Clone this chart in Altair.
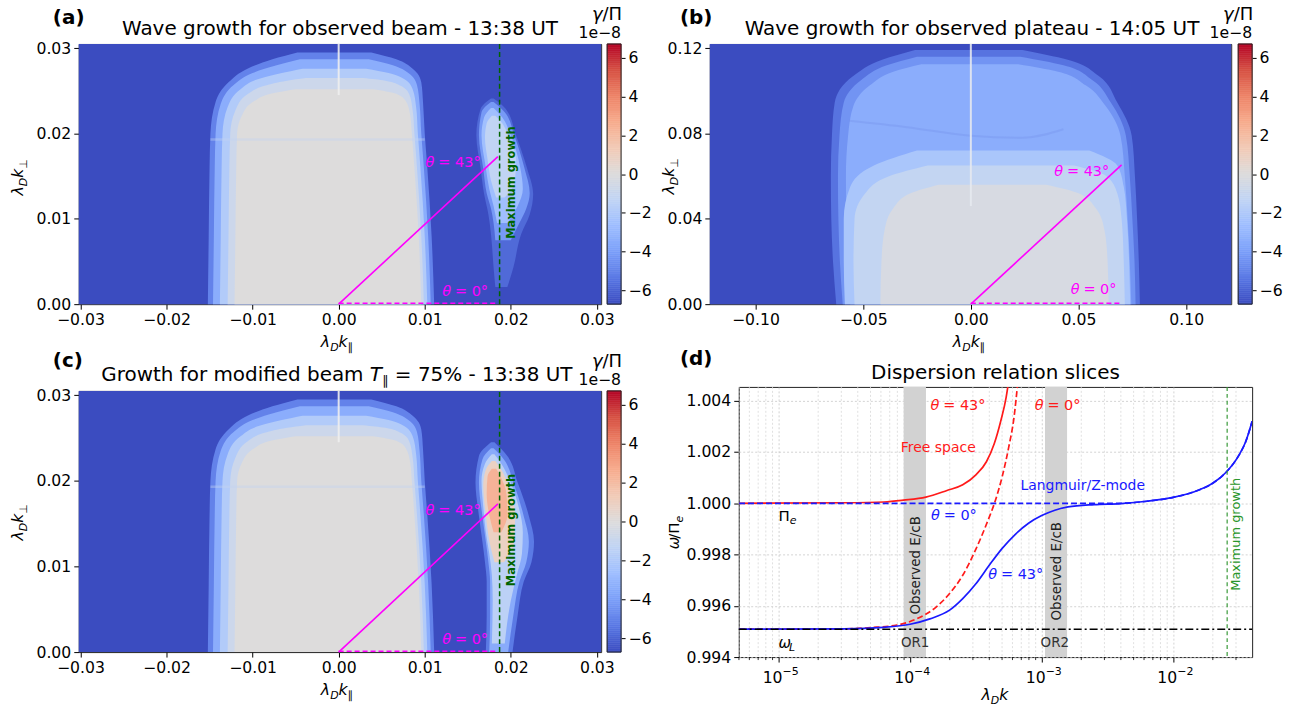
import altair as alt
import numpy as np
import pandas as pd

FONT = "DejaVu Sans"
TICKFS = 15.7
TITLEFS = 20

# ------------------------------------------------------------------ colour map (matplotlib "coolwarm")
VMAX = 6.7
COOLWARM = ["#3b4cc0", "#5a78e4", "#7b9ff9", "#9ebeff", "#c0d4f5", "#dddcdc",
            "#f2cbb7", "#f7ac8e", "#ee8468", "#d65244", "#b40426"]
CB_TICKS = [-6, -4, -2, 0, 2, 4, 6]
CDOM = [round(-VMAX + i * 2 * VMAX / 10, 4) for i in range(11)]
CSCALE = alt.Scale(domain=CDOM, range=COOLWARM, interpolate="rgb")

# ------------------------------------------------------------------ panels (a) and (c): axes
AC_XDOM = [-0.0302, 0.0305]
AC_YDOM = [0.0, 0.0305]
AC_XTICKS = [-0.03, -0.02, -0.01, 0.0, 0.01, 0.02, 0.03]
AC_YTICKS = [0.0, 0.01, 0.02, 0.03]
AC_MAXGROWTH = 0.0187
AC_THETA43_END = [0.0185, 0.0173]

# main plateau (same in a and c): contour levels
MAIN1_V = -5.0
MAIN1_KPERP = [0.0, 0.008, 0.016, 0.020, 0.0237, 0.0260, 0.0276, 0.0287, 0.0295]
MAIN1_LEFT = [-0.0152, -0.0151, -0.0150, -0.0149, -0.0143, -0.0128, -0.0106, -0.0077, -0.0048]
MAIN1_RIGHT = [0.0111, 0.0108, 0.0103, 0.0100, 0.0098, 0.0096, 0.0086, 0.0067, 0.0038]
MAIN2_V = -3.4
MAIN2_KPERP = [0.0, 0.008, 0.016, 0.020, 0.0235, 0.0257, 0.0271, 0.0280, 0.0287]
MAIN2_LEFT = [-0.0146, -0.0145, -0.0144, -0.0143, -0.0137, -0.0122, -0.0100, -0.0072, -0.0045]
MAIN2_RIGHT = [0.0107, 0.0104, 0.0099, 0.0096, 0.0094, 0.0091, 0.0081, 0.0063, 0.0035]
MAIN3_V = -1.9
MAIN3_KPERP = [0.0, 0.008, 0.016, 0.020, 0.0231, 0.0252, 0.0264, 0.0271, 0.0276]
MAIN3_LEFT = [-0.0138, -0.0137, -0.0136, -0.0135, -0.0129, -0.0114, -0.0093, -0.0066, -0.0042]
MAIN3_RIGHT = [0.0103, 0.0100, 0.0095, 0.0092, 0.0090, 0.0086, 0.0076, 0.0058, 0.0032]
MAIN4_V = -0.8
MAIN4_KPERP = [0.0, 0.008, 0.016, 0.020, 0.0227, 0.0246, 0.0256, 0.0262, 0.0265]
MAIN4_LEFT = [-0.0129, -0.0128, -0.0127, -0.0126, -0.0120, -0.0106, -0.0086, -0.0060, -0.0038]
MAIN4_RIGHT = [0.0099, 0.0096, 0.0091, 0.0088, 0.0086, 0.0082, 0.0072, 0.0054, 0.0028]
MAIN5_V = 0.0
MAIN5_KPERP = [0.0, 0.008, 0.016, 0.020, 0.0222, 0.0238, 0.0247, 0.0252]
MAIN5_LEFT = [-0.0121, -0.0120, -0.0119, -0.0118, -0.0112, -0.0098, -0.0078, -0.0050]
MAIN5_RIGHT = [0.0096, 0.0093, 0.0088, 0.0085, 0.0083, 0.0078, 0.0066, 0.0040]
MAIN_STRIPE_KPERP = 0.0193
MAIN_STRIPE_X = [-0.0149, 0.0100]
AC_WHITE_LINE_Y = [0.0245, 0.0305]

# growth blob, panel (a)
BA1_V = -5.8
BA1_KPERP = [0.002, 0.0043, 0.0082, 0.0105, 0.0129, 0.0159, 0.0198, 0.0229, 0.0241]
BA1_LEFT = [0.0182, 0.0180, 0.0177, 0.0174, 0.0169, 0.0165, 0.0160, 0.0165, 0.0177]
BA1_RIGHT = [0.0196, 0.0203, 0.0212, 0.0222, 0.0226, 0.0219, 0.0206, 0.0194, 0.0180]
BA2_V = -4.2
BA2_KPERP = [0.0075, 0.0095, 0.0112, 0.0130, 0.0159, 0.0198, 0.0225, 0.0237]
BA2_LEFT = [0.0182, 0.0180, 0.0177, 0.0172, 0.0168, 0.0163, 0.0166, 0.0177]
BA2_RIGHT = [0.0200, 0.0210, 0.0218, 0.0222, 0.0216, 0.0204, 0.0193, 0.0180]
BA3_V = -2.6
BA3_KPERP = [0.0095, 0.0115, 0.0135, 0.0160, 0.0198, 0.0219, 0.0230]
BA3_LEFT = [0.0184, 0.0180, 0.0175, 0.0171, 0.0166, 0.0169, 0.0177]
BA3_RIGHT = [0.0196, 0.0208, 0.0214, 0.0211, 0.0200, 0.0190, 0.0180]
BA4_V = -1.3
BA4_KPERP = [0.0125, 0.0145, 0.0170, 0.0195, 0.0212, 0.0221]
BA4_LEFT = [0.0183, 0.0177, 0.0173, 0.0170, 0.0172, 0.0178]
BA4_RIGHT = [0.0193, 0.0205, 0.0206, 0.0198, 0.0190, 0.0182]

# growth blob, panel (c)
BC1_V = -5.3
BC1_KPERP = [0.0, 0.0043, 0.0082, 0.0105, 0.0129, 0.0159, 0.0198, 0.0229, 0.0245]
BC1_LEFT = [0.0171, 0.0172, 0.0172, 0.0170, 0.0167, 0.0163, 0.0159, 0.0163, 0.0177]
BC1_RIGHT = [0.0202, 0.0208, 0.0215, 0.0224, 0.0227, 0.0221, 0.0208, 0.0196, 0.0181]
BC2_V = -3.5
BC2_KPERP = [0.0, 0.0043, 0.0082, 0.0105, 0.0129, 0.0159, 0.0198, 0.0225, 0.0238]
BC2_LEFT = [0.0175, 0.0176, 0.0176, 0.0174, 0.0171, 0.0167, 0.0163, 0.0167, 0.0177]
BC2_RIGHT = [0.0197, 0.0203, 0.0210, 0.0218, 0.0221, 0.0215, 0.0203, 0.0192, 0.0180]
BC3_V = -1.5
BC3_KPERP = [0.001, 0.0060, 0.0090, 0.0115, 0.0140, 0.0170, 0.0200, 0.0220, 0.0231]
BC3_LEFT = [0.0178, 0.0179, 0.0178, 0.0175, 0.0171, 0.0168, 0.0166, 0.0170, 0.0178]
BC3_RIGHT = [0.0193, 0.0200, 0.0207, 0.0213, 0.0214, 0.0209, 0.0199, 0.0189, 0.0181]
BC4_V = 0.9
BC4_KPERP = [0.0105, 0.0130, 0.0160, 0.0195, 0.0213, 0.0223]
BC4_LEFT = [0.0181, 0.0175, 0.0171, 0.0168, 0.0171, 0.0178]
BC4_RIGHT = [0.0192, 0.0204, 0.0205, 0.0197, 0.0189, 0.0182]
BC5_V = 2.4
BC5_KPERP = [0.0140, 0.0160, 0.0185, 0.0205, 0.0214]
BC5_LEFT = [0.0180, 0.0175, 0.0172, 0.0173, 0.0178]
BC5_RIGHT = [0.0189, 0.0196, 0.0195, 0.0188, 0.0183]

# ------------------------------------------------------------------ panel (b)
B_XDOM = [-0.1212, 0.1209]
B_YDOM = [0.0, 0.122]
B_XTICKS = [-0.10, -0.05, 0.0, 0.05, 0.10]
B_YTICKS = [0.0, 0.04, 0.08, 0.12]
B_THETA43_END = [0.070, 0.0653]
P1_V = -5.5
P1_KPERP = [0.0, 0.02, 0.04, 0.06, 0.079, 0.0945, 0.107, 0.1146, 0.1192]
P1_LEFT = [-0.0625, -0.0640, -0.0648, -0.0650, -0.0645, -0.0632, -0.0546, -0.0412, -0.0259]
P1_RIGHT = [0.0785, 0.0780, 0.0772, 0.0762, 0.0747, 0.0680, 0.0594, 0.0450, 0.0240]
P2_V = -4.4
P2_KPERP = [0.0, 0.02, 0.04, 0.06, 0.079, 0.0945, 0.105, 0.1120, 0.1160]
P2_LEFT = [-0.0595, -0.0608, -0.0615, -0.0617, -0.0610, -0.0590, -0.0510, -0.0390, -0.0250]
P2_RIGHT = [0.0765, 0.0760, 0.0750, 0.0738, 0.0720, 0.0650, 0.0565, 0.0430, 0.0230]
P3_V = -3.4
P3_KPERP = [0.0, 0.02, 0.04, 0.06, 0.079, 0.0930, 0.1025, 0.1090, 0.1125]
P3_LEFT = [-0.0560, -0.0572, -0.0578, -0.0580, -0.0570, -0.0545, -0.0470, -0.0360, -0.0230]
P3_RIGHT = [0.0745, 0.0738, 0.0728, 0.0715, 0.0695, 0.0625, 0.0535, 0.0405, 0.0220]
P4_V = -2.2
P4_KPERP = [0.0, 0.02, 0.04, 0.055, 0.065, 0.072]
P4_LEFT = [-0.0585, -0.0590, -0.0590, -0.0560, -0.0450, -0.0250]
P4_RIGHT = [0.0740, 0.0735, 0.0725, 0.0710, 0.0680, 0.0550]
P5_V = -1.2
P5_KPERP = [0.0, 0.02, 0.04, 0.052, 0.060, 0.065]
P5_LEFT = [-0.0540, -0.0545, -0.0540, -0.0490, -0.0380, -0.0200]
P5_RIGHT = [0.0715, 0.0710, 0.0700, 0.0680, 0.0630, 0.0480]
P6_V = -0.3
P6_KPERP = [0.0, 0.02, 0.035, 0.045, 0.052, 0.056]
P6_LEFT = [-0.0420, -0.0415, -0.0400, -0.0360, -0.0280, -0.0150]
P6_RIGHT = [0.0640, 0.0635, 0.0620, 0.0580, 0.0500, 0.0350]
B_ARC_KPAR = [-0.0565, -0.0297, 0.0, 0.024, 0.043]
B_ARC_KPERP = [0.086, 0.083, 0.079, 0.078, 0.082]
B_WHITE_LINE_Y = [0.046, 0.122]

# ------------------------------------------------------------------ panel (d): dispersion slices
D_XDOM = [4.98e-6, 0.0398]
D_YDOM = [0.994, 1.00454]
D_XTICKS = [1e-5, 1e-4, 1e-3, 1e-2]
D_XTICK_EXP = ["−5", "−4", "−3", "−2"]
D_YTICKS = [0.994, 0.996, 0.998, 1.000, 1.002, 1.004]
OMEGA_L = 0.99509
MAXGROWTH_K = 0.0257
OR1_BAND = [8.93e-5, 1.32e-4]
OR2_BAND = [1.06e-3, 1.56e-3]
RED43_LOGK = [-5.30, -4.50, -4.20, -4.05, -3.88, -3.72, -3.60, -3.50, -3.42, -3.36, -3.31, -3.27, -3.25]
RED43_W = [1.0, 1.00002, 1.00005, 1.00012, 1.00024, 1.0005, 1.00072, 1.00111, 1.00162, 1.00233,
           1.00323, 1.00413, 1.0048]
RED0_LOGK = [-5.30, -4.50, -4.30, -4.10, -3.95, -3.80, -3.70, -3.60, -3.50, -3.42, -3.35, -3.30,
             -3.25, -3.21, -3.18]
RED0_W = [0.99509, 0.99510, 0.99515, 0.99525, 0.99549, 0.99596, 0.99648, 0.99719, 0.99821, 0.99918,
          1.00014, 1.00104, 1.0022, 1.00336, 1.0048]
BLUE43_LOGK = [-5.30, -4.50, -4.20, -4.00, -3.85, -3.70, -3.60, -3.50, -3.40, -3.30, -3.20, -3.10,
               -3.00, -2.90, -2.80, -2.60, -2.40, -2.20, -2.00, -1.80, -1.70, -1.60, -1.50, -1.45, -1.40]
BLUE43_W = [0.99509, 0.99510, 0.99516, 0.99528, 0.99549, 0.99583, 0.99628, 0.99686, 0.99757, 0.99824,
            0.99879, 0.99922, 0.99952, 0.99973, 0.99986, 0.99995, 0.99999, 1.00008, 1.00023, 1.00053,
            1.00078, 1.0012, 1.00188, 1.00239, 1.0032]
BLUE0_LOGK = [-5.30, -3.00, -2.60, -2.40, -2.20, -2.00, -1.80, -1.70, -1.60, -1.50, -1.45, -1.40]
BLUE0_W = [1.0, 1.0, 1.0, 1.0, 1.00008, 1.00023, 1.00053, 1.00078, 1.0012, 1.00188, 1.00239, 1.0032]

# ------------------------------------------------------------------ layout (pixels)
W_AC, H_A, H_C = 524, 261, 262
W_B, H_B = 523, 261
W_D, H_D = 515, 271
CB_X, CB_W = 530, 14          # colour bar, relative to each heat-map panel
PLOT_POS = {"a": (78, 42), "b": (709, 42), "c": (78, 388), "d": (738, 384)}
GAP = -20                     # concat spacing; cells overlap by 20 px
CELL_COL = [(0, 670), (650, 1298)]
CELL_ROW = [(0, 362), (342, 710)]

# ------------------------------------------------------------------ helpers
CHARW = {"θ": 0.88, "=": 0.838, " ": 0.318, "°": 0.5, "λ": 0.60, "k": 0.58, "D": 0.77, "∥": 0.5,
         "⊥": 0.84, "ω": 0.70, "/": 0.337, "Π": 0.75, "e": 0.615, "L": 0.557, "γ": 0.59,
         "T": 0.611, "%": 0.95, "-": 0.361, ":": 0.337, "U": 0.732, "−": 0.838}
for _d in "0123456789":
    CHARW[_d] = 0.636


def tw(text, size):
    return sum(CHARW.get(ch, 0.6) for ch in text) * size


def txt(t, x, y, size, color="black", align="left", baseline="alphabetic", angle=0,
        italic=False, bold=False):
    return alt.Chart(pd.DataFrame({"t": [t]})).mark_text(
        align=align, baseline=baseline, font=FONT, fontSize=size, angle=angle, color=color,
        fontStyle="italic" if italic else "normal", fontWeight="bold" if bold else "normal"
    ).encode(text="t:N", x=alt.value(x), y=alt.value(y))


def ptext(pieces, x0, y0, angle=0, color="black"):
    out, pos = [], 0.0
    for t, size, ital, shift in pieces:
        if angle == 0:
            px, py = x0 + pos, y0 + shift
        else:
            px, py = x0 + shift, y0 - pos
        out.append(txt(t, px, py, size, color=color, angle=angle, italic=ital))
        pos += tw(t, size)
    return out


def kpieces(perp):
    return [("λ", 15.7, True, 0), ("D", 11, True, 4), ("k", 15.7, True, 0),
            ("⊥" if perp else "∥", 11, False, 4)]


def ctitle_x(pieces, cx, base):
    total = sum(tw(t, s) for t, s, _, _ in pieces)
    return ptext(pieces, cx - total / 2, base)


def ctitle_y(pieces, bx, cy):
    total = sum(tw(t, s) for t, s, _, _ in pieces)
    return ptext(pieces, bx, cy + total / 2, angle=270)


def axis(values, fmt=None, orient=None, **kw):
    d = dict(values=values, title=None, labelFont=FONT, labelFontSize=TICKFS, labelColor="black",
             tickColor="black", tickSize=5, tickWidth=1, domain=False, grid=False, labelPadding=3,
             labelFlush=False, labelOverlap=False)
    if fmt is not None:
        d["format"] = fmt
    if orient is not None:
        d["orient"] = orient
    d.update(kw)
    return alt.Axis(**d)


class Frame:
    """one panel's scales and axes; every layer uses the same axis definition"""

    def __init__(self, xs, ys, axx, axy):
        self.xs, self.ys, self.axx, self.axy = xs, ys, axx, axy

    def X(self, f):
        return alt.X(f, scale=self.xs, axis=self.axx)

    def Y(self, f):
        return alt.Y(f, scale=self.ys, axis=self.axy)


def dtext(x, y, pieces, fr, color, center=True):
    widths = [tw(t, s) for t, s, _, _ in pieces]
    pos = -sum(widths) / 2 if center else 0.0
    out = []
    for (t, s, it, dy), w in zip(pieces, widths):
        out.append(alt.Chart(pd.DataFrame({"x": [x], "y": [y], "t": [t]})).mark_text(
            align="left", baseline="middle", dx=pos, dy=dy, font=FONT, fontSize=s,
            fontStyle="italic" if it else "normal", color=color
        ).encode(x=fr.X("x:Q"), y=fr.Y("y:Q"), text="t:N"))
        pos += w
    return out


def cell(key):
    px, py = PLOT_POS[key]
    col = 0 if key in "ac" else 1
    row = 0 if key in "ab" else 1
    x0, x1 = CELL_COL[col]
    y0, y1 = CELL_ROW[row]
    return alt.Chart(pd.DataFrame({"a": [0]})).mark_rect(opacity=0).encode(
        x=alt.value(x0 - px), x2=alt.value(x1 - px), y=alt.value(y0 - py), y2=alt.value(y1 - py))


def level(kperp, left, right, v, fr):
    df = pd.DataFrame({"kp": kperp, "lf": left, "rt": right, "v": [v] * len(kperp)})
    return alt.Chart(df).mark_area(orient="horizontal", interpolate="monotone").encode(
        y=fr.Y("kp:Q"), x=fr.X("lf:Q"), x2=alt.X2("rt"),
        color=alt.Color("v:Q", scale=CSCALE, legend=None))


def seg(x0, y0, x1, y1, fr, color, width, dash=None, opacity=1.0):
    kw = dict(color=color, strokeWidth=width, opacity=opacity)
    if dash:
        kw["strokeDash"] = dash
    df = pd.DataFrame({"x0": [x0], "y0": [y0], "x1": [x1], "y1": [y1]})
    return alt.Chart(df).mark_rule(**kw).encode(
        x=fr.X("x0:Q"), y=fr.Y("y0:Q"), x2=alt.X2("x1"), y2=alt.Y2("y1"))


def background(xdom, ydom, fr):
    df = pd.DataFrame({"x0": [xdom[0]], "x1": [xdom[1]], "y0": [ydom[0]], "y1": [ydom[1]],
                       "v": [-VMAX]})
    return alt.Chart(df).mark_rect().encode(
        x=fr.X("x0:Q"), x2=alt.X2("x1"), y=fr.Y("y0:Q"), y2=alt.Y2("y1"),
        color=alt.Color("v:Q", scale=CSCALE, legend=None))


def colorbar_layers(W, H):
    """colour bar drawn inside the heat-map panel, with its own (independent) y scale"""
    vals = np.round(np.arange(-VMAX, VMAX - 1e-9, 0.1), 4)
    df = pd.DataFrame({"v0": vals, "v1": np.round(vals + 0.1, 4), "vm": np.round(vals + 0.05, 4)})
    ys = alt.Scale(domain=[-VMAX, VMAX], nice=False, zero=False)
    bar = alt.Chart(df).mark_rect(strokeWidth=0.6).encode(
        y=alt.Y("v0:Q", scale=ys, axis=axis(CB_TICKS, "d", orient="right", tickSize=4,
                                               labelPadding=3, offset=CB_X + CB_W - W)),
        y2=alt.Y2("v1"), x=alt.value(CB_X), x2=alt.value(CB_X + CB_W),
        color=alt.Color("vm:Q", scale=CSCALE, legend=None),
        stroke=alt.Stroke("vm:Q", scale=CSCALE, legend=None))
    frame = alt.Chart(pd.DataFrame({"a": [0]})).mark_rect(
        fillOpacity=0, stroke="#222222", strokeWidth=1).encode(
        x=alt.value(CB_X), x2=alt.value(CB_X + CB_W), y=alt.value(0), y2=alt.value(H))
    return alt.layer(bar, frame)


def cbar_titles():
    right = CB_X + CB_W
    gp = [("γ", 18, True, 0), ("/Π", 18, False, 0)]
    gw = sum(tw(t, s) for t, s, _, _ in gp)
    return ptext(gp, right - gw + 1, -24) + [txt("1e−8", right, -6, TICKFS, align="right")]


def theta_label(x, y, deg, fr, color):
    return dtext(x, y, [("θ", 14.5, True, 0), ("= " + deg + "°", 14.5, False, 0)], fr, color)


# ------------------------------------------------------------------ panels (a) & (c)
def beam_panel(key, H, blob_levels, label, title_layers, ylabel_cy, xlabel_base):
    fr = Frame(alt.Scale(domain=AC_XDOM, nice=False, zero=False),
               alt.Scale(domain=AC_YDOM, nice=False, zero=False),
               axis(AC_XTICKS, ".2f"), axis(AC_YTICKS, ".2f"))
    layers = [background(AC_XDOM, AC_YDOM, fr)]
    for kp, lf, rt, v in [(MAIN1_KPERP, MAIN1_LEFT, MAIN1_RIGHT, MAIN1_V),
                          (MAIN2_KPERP, MAIN2_LEFT, MAIN2_RIGHT, MAIN2_V),
                          (MAIN3_KPERP, MAIN3_LEFT, MAIN3_RIGHT, MAIN3_V),
                          (MAIN4_KPERP, MAIN4_LEFT, MAIN4_RIGHT, MAIN4_V),
                          (MAIN5_KPERP, MAIN5_LEFT, MAIN5_RIGHT, MAIN5_V)] + blob_levels:
        layers.append(level(kp, lf, rt, v, fr))
    layers.append(seg(MAIN_STRIPE_X[0], MAIN_STRIPE_KPERP, MAIN_STRIPE_X[1], MAIN_STRIPE_KPERP,
                      fr, "#c3d1ef", 2.5, opacity=0.4))
    layers.append(seg(0.0, AC_WHITE_LINE_Y[0], 0.0, AC_WHITE_LINE_Y[1], fr, "#eeeeee", 2,
                      opacity=0.9))
    layers.append(seg(0.0, 0.0, AC_THETA43_END[0], AC_THETA43_END[1], fr, "#ff00ff", 1.6))
    layers.append(seg(0.0, 0.0001, AC_THETA43_END[0], 0.0001, fr, "#ff00ff", 1.6, dash=[5, 3]))
    layers.append(seg(AC_MAXGROWTH, AC_YDOM[0], AC_MAXGROWTH, AC_YDOM[1], fr, "#006400", 1.5,
                      dash=[5, 3]))
    layers += theta_label(0.0133, 0.0165, "43", fr, "#ff00ff")
    layers += theta_label(0.0147, 0.0014, "0", fr, "#ff00ff")
    mg = pd.DataFrame({"x": [0.0201], "y": [0.01425], "t": ["Maximum growth"]})
    layers.append(alt.Chart(mg).mark_text(angle=270, align="center", baseline="middle", font=FONT,
                                          fontSize=11.5, fontWeight="bold", color="#006400").encode(
        x=fr.X("x:Q"), y=fr.Y("y:Q"), text="t:N"))
    layers += ctitle_x(kpieces(False), 259, xlabel_base)
    layers += ctitle_y(kpieces(True), -56, ylabel_cy)
    layers.append(txt(label[0], -26, label[1], 20, bold=True))
    layers += title_layers
    layers += cbar_titles()
    layers.append(cell(key))
    return alt.layer(alt.layer(*layers), colorbar_layers(W_AC, H)).resolve_scale(
        y="independent").properties(width=W_AC, height=H)


title_a = [txt("Wave growth for observed beam - 13:38 UT", W_AC / 2, -9, TITLEFS, align="center")]
XT_C = 292
title_c = [txt("Growth for modified beam", XT_C - tw(" ", TITLEFS), -10, TITLEFS, align="right"),
           txt("T", XT_C, -10, TITLEFS, italic=True),
           txt("∥", XT_C + tw("T", TITLEFS), -6, 13),
           txt("= 75% - 13:38 UT", XT_C + tw("T", TITLEFS) + tw("∥", 13) + tw(" ", TITLEFS), -10,
               TITLEFS)]

blob_a = [(BA1_KPERP, BA1_LEFT, BA1_RIGHT, BA1_V), (BA2_KPERP, BA2_LEFT, BA2_RIGHT, BA2_V),
          (BA3_KPERP, BA3_LEFT, BA3_RIGHT, BA3_V), (BA4_KPERP, BA4_LEFT, BA4_RIGHT, BA4_V)]
blob_c = [(BC1_KPERP, BC1_LEFT, BC1_RIGHT, BC1_V), (BC2_KPERP, BC2_LEFT, BC2_RIGHT, BC2_V),
          (BC3_KPERP, BC3_LEFT, BC3_RIGHT, BC3_V), (BC4_KPERP, BC4_LEFT, BC4_RIGHT, BC4_V),
          (BC5_KPERP, BC5_LEFT, BC5_RIGHT, BC5_V)]

panel_a = beam_panel("a", H_A, blob_a, ("(a)", -20), title_a, 134, 304)
panel_c = beam_panel("c", H_C, blob_c, ("(c)", -24), title_c, 132, 305)

# ------------------------------------------------------------------ panel (b)
fb = Frame(alt.Scale(domain=B_XDOM, nice=False, zero=False),
           alt.Scale(domain=B_YDOM, nice=False, zero=False),
           axis(B_XTICKS, ".2f"), axis(B_YTICKS, ".2f"))
lay_b = [background(B_XDOM, B_YDOM, fb)]
for kp, lf, rt, v in [(P1_KPERP, P1_LEFT, P1_RIGHT, P1_V), (P2_KPERP, P2_LEFT, P2_RIGHT, P2_V),
                      (P3_KPERP, P3_LEFT, P3_RIGHT, P3_V), (P4_KPERP, P4_LEFT, P4_RIGHT, P4_V),
                      (P5_KPERP, P5_LEFT, P5_RIGHT, P5_V), (P6_KPERP, P6_LEFT, P6_RIGHT, P6_V)]:
    lay_b.append(level(kp, lf, rt, v, fb))
lay_b.append(alt.Chart(pd.DataFrame({"x": B_ARC_KPAR, "y": B_ARC_KPERP})).mark_line(
    color="#6f8fe8", strokeWidth=2, opacity=0.3, interpolate="monotone").encode(
    x=fb.X("x:Q"), y=fb.Y("y:Q")))
lay_b.append(seg(0.0, B_WHITE_LINE_Y[0], 0.0, B_WHITE_LINE_Y[1], fb, "#e6e9f0", 2, opacity=0.9))
lay_b.append(seg(0.0, 0.0, B_THETA43_END[0], B_THETA43_END[1], fb, "#ff00ff", 1.6))
lay_b.append(seg(0.0, 0.0004, B_THETA43_END[0], 0.0004, fb, "#ff00ff", 1.6, dash=[5, 3]))
lay_b += theta_label(0.0515, 0.0618, "43", fb, "#ff00ff")
lay_b += theta_label(0.0570, 0.0065, "0", fb, "#ff00ff")
lay_b += ctitle_x(kpieces(False), 260, 304)
lay_b += ctitle_y(kpieces(True), -36, 133)
lay_b.append(txt("(b)", -30, -20, 20, bold=True))
lay_b.append(txt("Wave growth for observed plateau - 14:05 UT", 263, -9, TITLEFS, align="center"))
lay_b += cbar_titles()
lay_b.append(cell("b"))
panel_b = alt.layer(alt.layer(*lay_b), colorbar_layers(W_B, H_B)).resolve_scale(
    y="independent").properties(width=W_B, height=H_B)

# ------------------------------------------------------------------ panel (d)
grid_kw = dict(grid=True, gridColor="#c8c8c8", gridDash=[2, 2], gridWidth=0.8)
fd = Frame(alt.Scale(type="log", domain=D_XDOM, nice=False),
           alt.Scale(domain=D_YDOM, nice=False, zero=False),
           axis(D_XTICKS, labels=False, **grid_kw),
           axis(D_YTICKS, ".3f", **grid_kw))
minor = [k * 10.0 ** n for n in range(-6, -1) for k in range(2, 10)
         if D_XDOM[0] < k * 10.0 ** n < D_XDOM[1]]
minor_df = pd.DataFrame({"x": minor})
lay_d = [alt.Chart(minor_df).mark_rule(color="#d8d8d8", strokeWidth=0.8, strokeDash=[2, 2]).encode(
    x=fd.X("x:Q"), y=alt.value(0), y2=alt.value(H_D))]
lay_d.append(alt.Chart(minor_df).mark_rule(color="black", strokeWidth=0.8).encode(
    x=fd.X("x:Q"), y=alt.value(H_D), y2=alt.value(H_D + 3)))
# power-of-ten tick labels: "10" plus a raised exponent
ticklab = pd.DataFrame({"x": D_XTICKS, "base": ["10"] * len(D_XTICKS), "exp": D_XTICK_EXP})
lay_d.append(alt.Chart(ticklab).mark_text(font=FONT, fontSize=TICKFS, align="right",
                                          baseline="alphabetic", dx=4).encode(
    x=fd.X("x:Q"), y=alt.value(H_D + 26), text="base:N"))
lay_d.append(alt.Chart(ticklab).mark_text(font=FONT, fontSize=11, align="left",
                                          baseline="alphabetic", dx=4).encode(
    x=fd.X("x:Q"), y=alt.value(H_D + 18), text="exp:N"))
bands = pd.DataFrame({"x0": [OR1_BAND[0], OR2_BAND[0]], "x1": [OR1_BAND[1], OR2_BAND[1]]})
lay_d.append(alt.Chart(bands).mark_rect(color="#d2d2d2").encode(
    x=fd.X("x0:Q"), x2=alt.X2("x1"), y=alt.value(0), y2=alt.value(H_D)))


def dline(logk, w, color, dash=None, width=1.7):
    df = pd.DataFrame({"k": [10.0 ** v for v in logk], "w": w})
    kw = dict(color=color, strokeWidth=width, clip=True, interpolate="monotone")
    if dash:
        kw["strokeDash"] = dash
    return alt.Chart(df).mark_line(**kw).encode(x=fd.X("k:Q"), y=fd.Y("w:Q"))


RED, BLUE = "#ff1a1a", "#1a1aff"
lay_d.append(dline(RED43_LOGK, RED43_W, RED))
lay_d.append(dline(RED0_LOGK, RED0_W, RED, dash=[6, 3]))
lay_d.append(dline(BLUE43_LOGK, BLUE43_W, BLUE))
lay_d.append(dline(BLUE0_LOGK, BLUE0_W, BLUE, dash=[6, 3]))
lay_d.append(alt.Chart(pd.DataFrame({"k0": [D_XDOM[0]], "k1": [D_XDOM[1]], "w": [OMEGA_L]})).mark_rule(
    color="black", strokeWidth=1.5, strokeDash=[8, 3, 2, 3]).encode(
    x=fd.X("k0:Q"), x2=alt.X2("k1"), y=fd.Y("w:Q")))
lay_d.append(alt.Chart(pd.DataFrame({"k": [MAXGROWTH_K]})).mark_rule(
    color="#3a9a3a", strokeWidth=1.2, strokeDash=[4, 3]).encode(
    x=fd.X("k:Q"), y=alt.value(0), y2=alt.value(H_D)))

lay_d += dtext(10 ** -3.636, 1.0038, [("θ", 14.5, True, 0), ("= 43°", 14.5, False, 0)], fd, RED)
lay_d += dtext(10 ** -2.879, 1.0038, [("θ", 14.5, True, 0), ("= 0°", 14.5, False, 0)], fd, RED)
lay_d += dtext(10 ** -3.765, 1.00217, [("Free space", 14, False, 0)], fd, RED)
lay_d += dtext(10 ** -2.712, 1.00069, [("Langmuir/Z-mode", 14, False, 0)], fd, BLUE)
lay_d += dtext(10 ** -3.667, 0.99949, [("θ", 14.5, True, 0), ("= 0°", 14.5, False, 0)], fd, BLUE)
lay_d += dtext(10 ** -3.197, 0.99719, [("θ", 14.5, True, 0), ("= 43°", 14.5, False, 0)], fd, BLUE)
lay_d += dtext(1e-5, 0.99949, [("Π", 15, False, 0), ("e", 11, True, 5)], fd, "black", center=False)
lay_d += dtext(1e-5, 0.99455, [("ω", 15, True, 0), ("L", 11, True, 5)], fd, "black", center=False)
ann = pd.DataFrame({"x": [10 ** -3.962, 10 ** -2.90], "y": [0.99455, 0.99455], "t": ["OR1", "OR2"]})
lay_d.append(alt.Chart(ann).mark_text(font=FONT, fontSize=13.5, color="#333333", baseline="middle").encode(
    x=fd.X("x:Q"), y=fd.Y("y:Q"), text="t:N"))
obs = pd.DataFrame({"x": [10 ** -3.955, 10 ** -2.886], "y": [0.99758, 0.99735],
                    "t": ["Observed E/cB", "Observed E/cB"]})
lay_d.append(alt.Chart(obs).mark_text(font=FONT, fontSize=13.5, color="#222222", angle=270,
                                      align="center", baseline="middle").encode(
    x=fd.X("x:Q"), y=fd.Y("y:Q"), text="t:N"))
mgd = pd.DataFrame({"x": [10 ** -1.523], "y": [0.99879], "t": ["Maximum growth"]})
lay_d.append(alt.Chart(mgd).mark_text(font=FONT, fontSize=13, color="#2a962a", angle=270,
                                      align="center", baseline="middle").encode(
    x=fd.X("x:Q"), y=fd.Y("y:Q"), text="t:N"))
lay_d += ctitle_x([("λ", 15.7, True, 0), ("D", 11, True, 4), ("k", 15.7, True, 0)], 257, 314)
lay_d += ctitle_y([("ω", 15, True, 0), ("/Π", 15, False, 0), ("e", 11, True, 4)], -60, 146)
lay_d.append(txt("(d)", -59, -22, 20, bold=True))
lay_d.append(txt("Dispersion relation slices", W_D / 2, -8, TITLEFS, align="center"))
lay_d.append(cell("d"))
panel_d = alt.layer(*lay_d).properties(width=W_D, height=H_D)

# ------------------------------------------------------------------ assemble
chart = alt.concat(panel_a, panel_b, panel_c, panel_d, columns=2, spacing=GAP,
                   align="none").resolve_scale(
    x="independent", y="independent").properties(padding=0).configure_view(
    stroke="#222222", strokeWidth=1)

chart.save("out.html", embed_options={"renderer": "svg", "actions": False})
